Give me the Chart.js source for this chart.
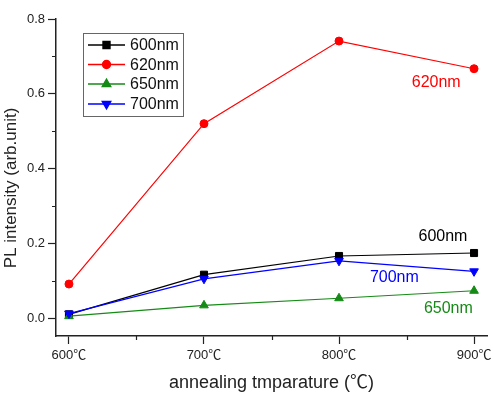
<!DOCTYPE html>
<html><head><meta charset="utf-8">
<script src="https://cdn.jsdelivr.net/npm/chart.js@4.4.0/dist/chart.umd.min.js"></script>
<style>html,body{margin:0;padding:0;background:#fff;} #wrap{width:493px;height:395px;position:relative;}</style>
</head><body><div id="wrap"><canvas id="c" width="493" height="395"></canvas></div>
<script>
// ---- data ----
const temperatures = [600, 700, 800, 900];
const xTickValues = [600, 700, 800, 900];
const xTickLabels = ['600℃', '700℃', '800℃', '900℃'];
const xMinorTicks = [650, 750, 850];
const yTickValues = [0, 0.2, 0.4, 0.6, 0.8];
const yTickLabels = ['0.0', '0.2', '0.4', '0.6', '0.8'];
const yMinorTicks = [0.1, 0.3, 0.5, 0.7];
const seriesNames = ['600nm', '620nm', '650nm', '700nm'];
const pl600 = [0.010, 0.116, 0.166, 0.174];
const pl620 = [0.091, 0.520, 0.741, 0.667];
const pl650 = [0.005, 0.034, 0.053, 0.073];
const pl700 = [0.012, 0.105, 0.153, 0.125];
const xTitle = 'annealing tmparature (℃)';
const yTitle = 'PL intensity (arb.unit)';

const FONT = "'Liberation Sans', 'Noto Sans CJK JP', sans-serif";
const colors = ['#000000', '#ff0000', '#168a16', '#0000ff'];
const styles = ['rect', 'circle', 'triangle', 'triangle'];
const rotations = [0, 0, 0, 180];
const radii = [5, 4, 5, 5];
const seriesValues = [pl600, pl620, pl650, pl700];
// annotation placement (data coords) for each series label
const labelPos = [[877, 0.219], [872, 0.631], [881, 0.024], [841, 0.107]];

const datasets = seriesNames.map((name, i) => ({
  label: name,
  data: temperatures.map((t, j) => ({x: t, y: seriesValues[i][j]})),
  borderColor: colors[i],
  backgroundColor: colors[i],
  borderWidth: 1.2,
  pointStyle: styles[i],
  pointRotation: rotations[i],
  pointRadius: radii[i],
  pointHoverRadius: radii[i],
  pointBorderWidth: 1,
  pointBorderColor: colors[i],
  pointBackgroundColor: colors[i],
  showLine: true,
  tension: 0,
  order: 4 - i
}));

const decor = {
  id: 'decor',
  afterDatasetsDraw(chart) {
    const ctx = chart.ctx;
    const xs = chart.scales.x, ys = chart.scales.y;
    ctx.save();
    ctx.font = '16px ' + FONT;
    ctx.textAlign = 'center';
    ctx.textBaseline = 'middle';
    seriesNames.forEach((n, i) => {
      ctx.fillStyle = colors[i];
      ctx.fillText(n, xs.getPixelForValue(labelPos[i][0]), ys.getPixelForValue(labelPos[i][1]));
    });
    ctx.restore();
  },
  afterDraw(chart) {
    const ctx = chart.ctx;
    const xs = chart.scales.x, ys = chart.scales.y;
    const a = chart.chartArea;
    ctx.save();
    // minor ticks
    ctx.strokeStyle = '#222';
    ctx.lineWidth = 1.2;
    ctx.beginPath();
    xMinorTicks.forEach(v => {
      const px = Math.round(xs.getPixelForValue(v)) + 0.5;
      ctx.moveTo(px, a.bottom); ctx.lineTo(px, a.bottom + 4);
    });
    yMinorTicks.forEach(v => {
      const py = Math.round(ys.getPixelForValue(v)) + 0.5;
      ctx.moveTo(a.left - 4, py); ctx.lineTo(a.left, py);
    });
    ctx.stroke();
    // y title
    ctx.fillStyle = '#222';
    ctx.font = '17px ' + FONT;
    ctx.textAlign = 'center';
    ctx.textBaseline = 'middle';
    ctx.translate(11, 188);
    ctx.rotate(-Math.PI / 2);
    ctx.fillText(yTitle, 0, 0);
    ctx.restore();

    // legend
    ctx.save();
    ctx.fillStyle = '#fff';
    ctx.fillRect(83.5, 33.5, 100, 83);
    ctx.strokeStyle = '#666';
    ctx.lineWidth = 1;
    ctx.strokeRect(83.5, 33.5, 100, 83);
    const rowY = [45, 64.5, 84, 104];
    ctx.font = '16px ' + FONT;
    ctx.textAlign = 'left';
    ctx.textBaseline = 'middle';
    seriesNames.forEach((n, i) => {
      const y = rowY[i];
      ctx.strokeStyle = colors[i];
      ctx.lineWidth = 1.3;
      ctx.beginPath(); ctx.moveTo(88, y); ctx.lineTo(125, y); ctx.stroke();
      ctx.fillStyle = colors[i];
      Chart.helpers.drawPoint(ctx, {pointStyle: styles[i], radius: radii[i], rotation: rotations[i], borderWidth: 1}, 106.5, y);
      ctx.fillStyle = '#111';
      ctx.fillText(n, 130, y + 1);
    });
    ctx.restore();
  }
};

new Chart(document.getElementById('c'), {
  type: 'scatter',
  data: {datasets},
  options: {
    responsive: false,
    animation: false,
    layout: {padding: {top: 19, right: 5, left: 0, bottom: 0}},
    plugins: {legend: {display: false}, tooltip: {enabled: false}},
    scales: {
      x: {
        type: 'linear', min: 590.4, max: 909.6,
        afterBuildTicks: s => { s.ticks = xTickValues.map(v => ({value: v})); },
        afterFit: s => { s.height = 59; s.paddingLeft = 0; s.paddingRight = 0; },
        ticks: {
          callback: (v) => xTickLabels[xTickValues.indexOf(v)],
          font: {family: FONT, size: 13}, color: '#222', padding: 4, maxRotation: 0, autoSkip: false
        },
        grid: {drawOnChartArea: false, drawTicks: true, tickLength: 8, tickColor: '#222', tickWidth: 1.2},
        border: {display: true, color: '#222', width: 1.5},
        title: {display: true, text: xTitle, font: {family: FONT, size: 18}, color: '#222', padding: {top: 0, bottom: 1}}
      },
      y: {
        type: 'linear', min: -0.048, max: 0.8,
        afterBuildTicks: s => { s.ticks = yTickValues.map(v => ({value: v})); },
        afterFit: s => { s.width = 56; s.paddingTop = 0; s.paddingBottom = 0; },
        ticks: {
          callback: (v) => yTickLabels[yTickValues.indexOf(v)],
          font: {family: FONT, size: 13}, color: '#222', padding: 3, autoSkip: false
        },
        grid: {drawOnChartArea: false, drawTicks: true, tickLength: 8, tickColor: '#222', tickWidth: 1.2},
        border: {display: true, color: '#222', width: 1.5}
      }
    }
  },
  plugins: [decor]
});
</script>
</body></html>
